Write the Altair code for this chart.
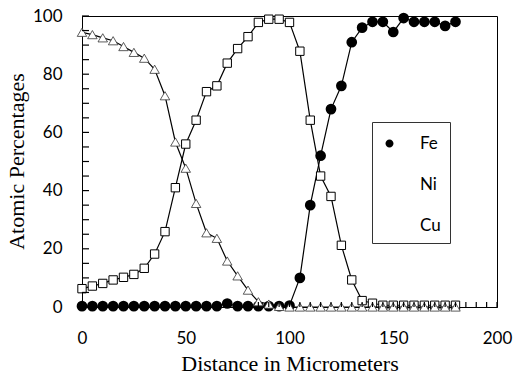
import altair as alt
import pandas as pd

distance = [0, 5, 10, 15, 20, 25, 30, 35, 40, 45, 50, 55, 60, 65, 70, 75, 80, 85, 90, 95,
            100, 105, 110, 115, 120, 125, 130, 135, 140, 145, 150, 155, 160, 165, 170, 175, 180]
fe = [0.3, 0.3, 0.3, 0.3, 0.3, 0.3, 0.3, 0.3, 0.3, 0.3, 0.3, 0.3, 0.3, 0.3, 1.2, 0.3, 0.3, 0.3, 0.3, 0.3,
      0.5, 10, 35, 52, 68, 76, 91, 96, 98, 98, 94.5, 99.3, 98, 98, 98, 96.6, 98]
ni = [6.3, 7.2, 8.1, 9.3, 10.2, 11.2, 13.3, 18.2, 25.9, 41, 56, 64.2, 74, 76, 83.8, 88.8, 92.9, 97.8, 98.9, 98.9,
      97.8, 87.9, 64.2, 45, 38, 21.2, 9.3, 2.2, 1.3, 0.6, 0.6, 0.6, 0.6, 0.6, 0.6, 0.6, 0.6]
cu = [94.4, 93.6, 92.5, 91.5, 89.5, 87.5, 85.5, 81.7, 72.6, 56.7, 47.7, 35.6, 25.5, 23.6, 15.8, 10.7, 5.8, 1.8, 1.0, 0.2,
      0, 0, 0, 0, 0, 0, 0, 0, 0, 0, 0, 0, 0, 0, 0, 0, 0]
series_names = ["Fe", "Ni", "Cu"]
x_labels = [0, 50, 100, 150, 200]
y_labels = [0, 20, 40, 60, 80, 100]
x_minor = list(range(0, 201, 5))
y_minor = list(range(0, 101, 5))

df = pd.DataFrame({"d": distance, "Fe": fe, "Ni": ni, "Cu": cu})
xtick_df = pd.DataFrame({"tx": x_minor})
ytick_df = pd.DataFrame({"ty": y_minor})

W, H = 415, 291
xs = alt.Scale(domain=[0, 200], nice=False)
ys = alt.Scale(domain=[0, 100], nice=False)

xax = alt.Axis(values=x_labels, title="Distance in Micrometers", grid=False, ticks=False, tickSize=0,
               labelPadding=23, labelFlush=False, titleY=63, titleBaseline="alphabetic")
yax = alt.Axis(values=y_labels, title="Atomic Percentages", grid=False, ticks=False, tickSize=0,
               labelPadding=20, labelFlush=False, titleX=-59, titleY=145, titleAngle=270,
               titleBaseline="alphabetic")

base = alt.Chart(df)

def line(col):
    return base.mark_line(color="black", strokeWidth=1.2).encode(
        x=alt.X("d:Q", scale=xs, axis=xax), y=alt.Y(f"{col}:Q", scale=ys, axis=yax))

fe_pts = base.mark_point(shape="circle", filled=True, fill="black", stroke="black", size=76, opacity=1).encode(
    x=alt.X("d:Q", scale=xs, axis=xax), y=alt.Y("Fe:Q", scale=ys, axis=yax))
ni_pts = base.mark_point(shape="square", filled=True, fill="white", stroke="black", strokeWidth=1,
                         size=70, opacity=1).encode(x=alt.X("d:Q", scale=xs, axis=xax),
                                                    y=alt.Y("Ni:Q", scale=ys, axis=yax))
cu_pts = base.mark_point(shape="triangle-up", filled=True, fill="white", stroke="#333", strokeWidth=0.8,
                         size=90, opacity=1).encode(x=alt.X("d:Q", scale=xs, axis=xax),
                                                    y=alt.Y("Cu:Q", scale=ys, axis=yax))

# inner tick marks
xt = alt.Chart(xtick_df).mark_rule(color="black", strokeWidth=1.2).encode(
    x=alt.X("tx:Q", scale=xs, axis=xax), y=alt.value(H), y2=alt.value(H - 5))
yt = alt.Chart(ytick_df).mark_rule(color="black", strokeWidth=1.2).encode(
    y=alt.Y("ty:Q", scale=ys, axis=yax), x=alt.value(0), x2=alt.value(7))

p_fe = "M-1,0H-0.667M0,0H0.333M-0.667,0A0.333,0.333,0,1,0,0,0A0.333,0.333,0,1,0,-0.667,0Z"
p_ni = "M-1,0H-0.623M-0.043,0H0.333M-0.623,-0.29H-0.043V0.29H-0.623Z"
p_cu = "M-1,0H-0.62M-0.046,0H0.333M-0.333,-0.5L0,0.08L-0.666,0.08Z"

leg = alt.Chart(pd.DataFrame({"series": series_names})).transform_filter("false").mark_point(
    filled=True, size=576, stroke="black", strokeWidth=1, opacity=1).encode(
    shape=alt.Shape("series:N", scale=alt.Scale(domain=series_names, range=[p_fe, p_ni, p_cu]),
                    legend=alt.Legend(title=None)),
    fill=alt.Fill("series:N", scale=alt.Scale(domain=series_names, range=["black", "white", "white"]),
                  legend=alt.Legend(title=None)),
)

chart = alt.layer(
    line("Fe"), fe_pts, line("Ni"), ni_pts, line("Cu"), cu_pts, leg, xt, yt
).properties(
    width=W, height=H,
    padding={"left": 82, "top": 16, "right": 17, "bottom": 68},
    autosize=alt.AutoSizeParams(type="none"),
).configure_view(
    stroke="black", strokeWidth=1
).configure_axis(
    domainColor="black", domainWidth=1, labelFont="Lato", labelFontSize=17, labelColor="black",
    titleFont="Liberation Serif", titleFontSize=22, titleFontWeight="normal", titleColor="black",
).configure_legend(
    orient="none", legendX=290, legendY=106, padding=9, rowPadding=20, labelOffset=14,
    labelFont="Lato", labelFontSize=17, labelColor="black", strokeColor="#333", fillColor="white",
    symbolStrokeColor="black", symbolStrokeWidth=1, symbolSize=576,
)

chart.save("out.html", embed_options={"renderer": "svg", "actions": False})
